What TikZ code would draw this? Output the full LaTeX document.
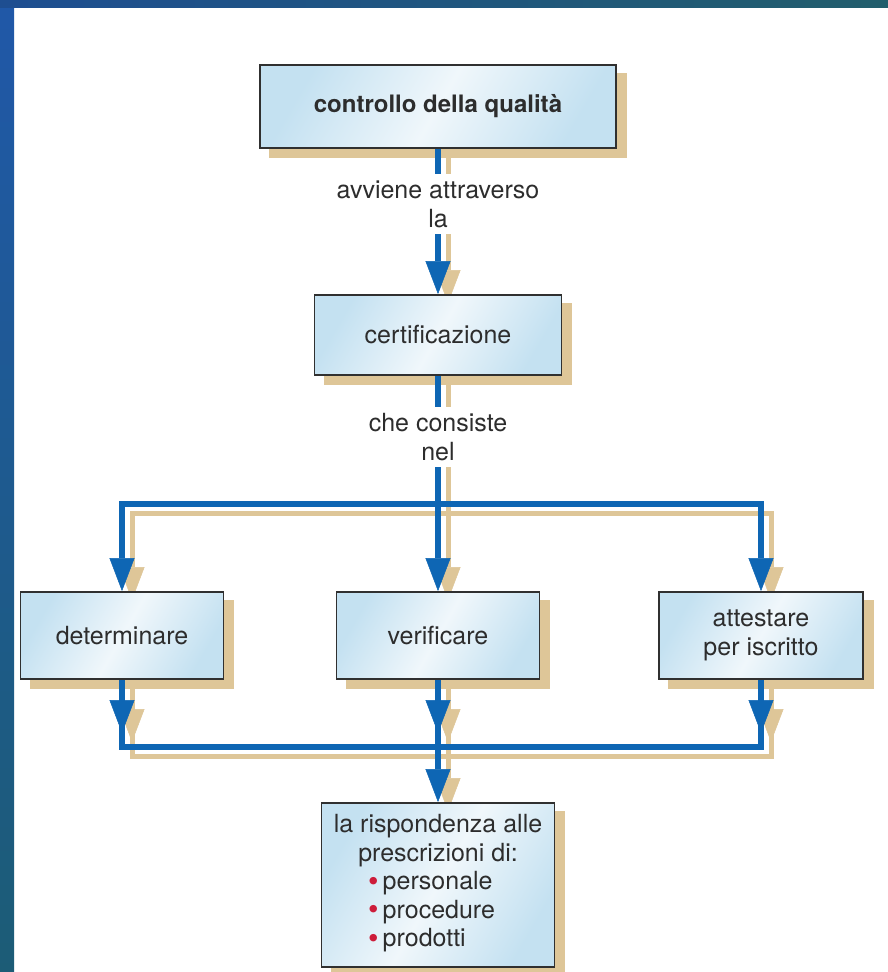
\documentclass[tikz,border=0pt]{standalone}
\usepackage{fontspec}
\setmainfont{TeX Gyre Heros}
\usetikzlibrary{arrows.meta}
\pgfdeclarelayer{bgimg}
\pgfdeclarelayer{shadowlayer}
\pgfdeclarelayer{linelayer}
\pgfsetlayers{bgimg,shadowlayer,linelayer,main}
\definecolor{bluearrow}{RGB}{14,102,180}
\definecolor{tanshadow}{RGB}{222,198,152}
\definecolor{boxblue}{RGB}{196,225,241}
\definecolor{boxlight}{RGB}{240,247,251}
\definecolor{boxborder}{RGB}{48,48,48}
\definecolor{textgray}{RGB}{45,45,45}
\definecolor{bulletred}{RGB}{205,28,58}
\definecolor{bgblueA}{RGB}{32,88,168}
\definecolor{bgtealA}{RGB}{28,92,118}
\definecolor{bgblueB}{RGB}{30,78,145}
\definecolor{bgtealB}{RGB}{34,94,108}
\newcommand{\bul}{\textcolor{bulletred}{\raisebox{-1.5pt}{\fontsize{30}{30}\selectfont\textbullet}}\,}
\newcommand{\allconns}{%
  \draw[conn,tipa] (top.south) -- (cert.north);
  \draw[conn] (cert.south) -- (hm);
  \draw[conn,tipa] (hm) -| (det.north);
  \draw[conn,tipa] (hm) -| (att.north);
  \draw[conn,tipa] (hm) -- (ver.north);
  \draw[conn] (det.south) |- (bm);
  \draw[conn] (att.south) |- (bm);
  \draw[conn,tipa] (ver.south) -- (bot.north);
  \draw[conn,tipa] (det.south) -- (da);
  \draw[conn,tipa] (ver.south) -- (va);
  \draw[conn,tipa] (att.south) -- (aa);
}
\begin{document}
\begin{tikzpicture}[x=1pt,y=-1pt,
  boxnode/.style={draw=boxborder, line width=1.8pt, left color=boxblue, right color=boxblue,
    middle color=boxlight, shading angle=60, text=textgray,
    font=\fontsize{25}{29}\selectfont, inner sep=2pt, align=center},
  lab/.style={fill=white, text=textgray, font=\fontsize{25}{29}\selectfont, align=center,
    inner xsep=3pt, inner ysep=6pt},
  tipa/.style={-{Triangle[length=33pt,width=25pt,line width=0.5pt]}}
]
\useasboundingbox (0,0) rectangle (888,972);
\begin{pgfonlayer}{bgimg}
  \fill[white] (0,0) rectangle (888,972);
  \shade[top color=bgblueA, bottom color=bgtealA] (0,0) rectangle (14,972);
  \shade[left color=bgblueB, right color=bgtealB] (0,0) rectangle (888,7);
\end{pgfonlayer}

\node[boxnode, minimum width=356pt, minimum height=83pt] (top) at (438,106.5)
  {\fontsize{24}{28}\selectfont\bfseries controllo della qualità};
\node[boxnode, minimum width=247pt, minimum height=80pt] (cert) at (438,335) {certificazione};
\node[boxnode, minimum width=203pt, minimum height=87pt] (det) at (122,635.5) {determinare};
\node[boxnode, minimum width=203pt, minimum height=87pt] (ver) at (438,635.5) {verificare};
\node[boxnode, minimum width=204pt, minimum height=87pt] (att) at (761,635.5) {attestare\\per iscritto};
\node[boxnode, minimum width=233pt, minimum height=164pt, font=\fontsize{25}{28.5}\selectfont] (bot) at (438,885)
  {la rispondenza alle\\prescrizioni di:\\\hspace*{-13pt}\begin{tabular}[t]{@{}l@{}}\bul personale\\\bul procedure\\\bul prodotti\end{tabular}};

\coordinate (hm) at (438,504);
\coordinate (bm) at (438,747);
\coordinate (da) at (122,733);
\coordinate (va) at (438,733);
\coordinate (aa) at (761,733);

\node[lab] (l1) at (438,204) {avviene attraverso\\la};
\node[lab] (l2) at (438,437) {che consiste\\nel};

\begin{pgfonlayer}{shadowlayer}
  \begin{scope}[transform canvas={xshift=10pt,yshift=-9pt},
      conn/.style={draw=tanshadow, line width=5pt}]
    \foreach \n in {top,cert,det,ver,att,bot}
      \fill[tanshadow] (\n.south west) rectangle (\n.north east);
    \allconns
  \end{scope}
\end{pgfonlayer}
\begin{pgfonlayer}{linelayer}
  \begin{scope}[conn/.style={draw=bluearrow, line width=6.5pt}]
    \allconns
  \end{scope}
\end{pgfonlayer}
\end{tikzpicture}
\end{document}
